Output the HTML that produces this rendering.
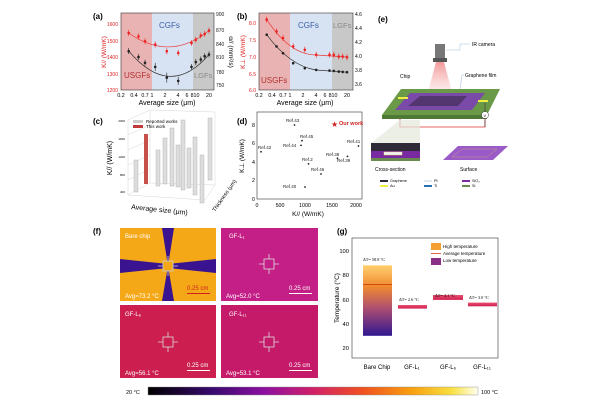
<!DOCTYPE html><html><head><meta charset="utf-8"><style>
body{margin:0;background:#fff;width:600px;height:400px;overflow:hidden}
svg{font-family:"Liberation Sans",Arial,sans-serif}
</style></head><body>
<svg width="600" height="400" viewBox="0 0 600 400" xmlns="http://www.w3.org/2000/svg">
<defs>
<linearGradient id="cb" x1="0" x2="1"><stop offset="0" stop-color="#000"/><stop offset="0.2" stop-color="#3a0a70"/><stop offset="0.35" stop-color="#8a10a0"/><stop offset="0.5" stop-color="#d0206a"/><stop offset="0.65" stop-color="#f05020"/><stop offset="0.8" stop-color="#f8a010"/><stop offset="0.92" stop-color="#f8e040"/><stop offset="1" stop-color="#fffff0"/></linearGradient>
<linearGradient id="bar" x1="0" y1="0" x2="0" y2="1"><stop offset="0" stop-color="#ffd070"/><stop offset="0.3" stop-color="#f08a30"/><stop offset="0.6" stop-color="#b05070"/><stop offset="1" stop-color="#301890"/></linearGradient>
<linearGradient id="pk" x1="0" y1="0" x2="0" y2="1"><stop offset="0" stop-color="#e85070"/><stop offset="1" stop-color="#d02050"/></linearGradient>
<linearGradient id="cam" x1="0" y1="0" x2="0" y2="1"><stop offset="0" stop-color="#f08080" stop-opacity=".8"/><stop offset="1" stop-color="#f8c0c0" stop-opacity=".3"/></linearGradient>
</defs>
<!-- (a) -->
<text x="93" y="19" font-size="8" font-weight="bold">(a)</text>
<rect x="121" y="13" width="31" height="77" fill="#eab3b3"/>
<rect x="152" y="13" width="41" height="77" fill="#d7e3f2"/>
<rect x="193" y="13" width="21" height="77" fill="#c8c8c8"/>
<rect x="121" y="13" width="93" height="77" fill="none" stroke="#333" stroke-width=".6"/>
<text x="159" y="28" font-size="8" fill="#3a5fa8">CGFs</text>
<text x="124" y="78" font-size="8" fill="#b03030">USGFs</text>
<text x="194" y="78" font-size="7.5" fill="#888">LGFs</text>
<g font-size="5" fill="#d22" text-anchor="end"><text x="118" y="26">1600</text><text x="118" y="43">1500</text><text x="118" y="59">1400</text><text x="118" y="76">1300</text><text x="118" y="92">1200</text></g>
<g font-size="5" fill="#222"><text x="216" y="16">900</text><text x="216" y="32">870</text><text x="216" y="46">840</text><text x="216" y="59">810</text><text x="216" y="74">780</text><text x="216" y="87">750</text></g>
<text transform="translate(106,52) rotate(-90)" font-size="6.5" fill="#d22" text-anchor="middle">K// (W/mK)</text>
<text transform="translate(229,52) rotate(90)" font-size="6.5" text-anchor="middle">α// (mm²/s)</text>
<g font-size="5.3" text-anchor="middle"><text x="121" y="97">0.2</text><text x="134" y="97">0.4</text><text x="145" y="97">0.7</text><text x="152" y="97">1</text><text x="165" y="97">2</text><text x="178" y="97">4</text><text x="187" y="97">6</text><text x="195" y="97">810</text><text x="209" y="97">20</text></g>
<text x="167" y="105" font-size="7" text-anchor="middle">Average size (μm)</text>
<path d="M128.7,33 Q170,62 209,30.6" fill="none" stroke="#e33" stroke-width=".7"/>
<path d="M128.7,51 Q170,100 209,54.5" fill="none" stroke="#333" stroke-width=".7"/>
<g stroke="#e22" stroke-width=".6"><path d="M128.7,30v6M138.5,33.4v6M145,38.3v6M155.2,41.6v6M166.8,48.2v6M178.2,49.9v6M191.5,40v6M195.8,36.7v6M200.8,32.5v6M204.7,30.9v6M209,27.6v6"/></g>
<g stroke="#222" stroke-width=".6"><path d="M128.7,48v6M138.5,54v6M145,59.8v6M155.2,62.9v8M166.8,72.6v10M178.2,76.9v8M191.5,63.9v6M195.8,59v6M200.8,56.5v6M204.7,53.2v6M209,51.5v6"/></g>
<g fill="#e22"><circle cx="128.7" cy="33" r="1.3"/><circle cx="138.5" cy="36.4" r="1.3"/><circle cx="145" cy="41.3" r="1.3"/><circle cx="155.2" cy="44.6" r="1.3"/><circle cx="166.8" cy="51.2" r="1.3"/><circle cx="178.2" cy="52.9" r="1.3"/><circle cx="191.5" cy="43" r="1.3"/><circle cx="195.8" cy="39.7" r="1.3"/><circle cx="200.8" cy="35.5" r="1.3"/><circle cx="204.7" cy="33.9" r="1.3"/><circle cx="209" cy="30.6" r="1.3"/></g>
<g fill="#222"><circle cx="128.7" cy="51.2" r="1.3"/><circle cx="138.5" cy="57" r="1.3"/><circle cx="145" cy="62.8" r="1.3"/><circle cx="155.2" cy="66.9" r="1.3"/><circle cx="166.8" cy="77.6" r="1.3"/><circle cx="178.2" cy="80.9" r="1.3"/><circle cx="191.5" cy="66.9" r="1.3"/><circle cx="195.8" cy="62" r="1.3"/><circle cx="200.8" cy="59.5" r="1.3"/><circle cx="204.7" cy="56.2" r="1.3"/><circle cx="209" cy="54.5" r="1.3"/></g>
<!-- (b) -->
<text x="237" y="19" font-size="8" font-weight="bold">(b)</text>
<rect x="259" y="13" width="31" height="77" fill="#eab3b3"/>
<rect x="290" y="13" width="42" height="77" fill="#d7e3f2"/>
<rect x="332" y="13" width="21" height="77" fill="#c8c8c8"/>
<rect x="259" y="13" width="94" height="77" fill="none" stroke="#333" stroke-width=".6"/>
<text x="298" y="28" font-size="8" fill="#3a5fa8">CGFs</text>
<text x="261" y="83" font-size="8" fill="#b03030">USGFs</text>
<text x="333" y="28" font-size="7.5" fill="#888">LGFs</text>
<g font-size="5" fill="#d22" text-anchor="end"><text x="256" y="25">8.0</text><text x="256" y="42">7.5</text><text x="256" y="59">7.0</text><text x="256" y="76">6.5</text><text x="256" y="92">6.0</text></g>
<g font-size="5"><text x="355" y="16">4.6</text><text x="355" y="30">4.4</text><text x="355" y="44">4.2</text><text x="355" y="58">4.0</text><text x="355" y="72">3.8</text><text x="355" y="86">3.6</text></g>
<text transform="translate(245,52) rotate(-90)" font-size="6.5" fill="#d22" text-anchor="middle">K⊥ (W/mK)</text>
<g font-size="5.3" text-anchor="middle"><text x="259" y="97">0.2</text><text x="272" y="97">0.4</text><text x="283" y="97">0.7</text><text x="290" y="97">1</text><text x="303" y="97">2</text><text x="316" y="97">4</text><text x="325" y="97">6</text><text x="333" y="97">810</text><text x="347" y="97">20</text></g>
<text x="305" y="105" font-size="7" text-anchor="middle">Average size (μm)</text>
<path d="M266.7,19.6 Q290,55 316,55 L347,57" fill="none" stroke="#e33" stroke-width=".7"/>
<path d="M266.7,34.7 Q290,66 316,70 L347,72.2" fill="none" stroke="#333" stroke-width=".7"/>
<g stroke="#e22" stroke-width=".6"><path d="M266.7,16.6v6M276.5,28.4v6M283,35v6M293.2,43.4v6M304.8,46.8v6M316.2,51.8v6M329.5,51.8v6M333.8,51.8v6M338.8,53.5v6M342.7,53.5v6M347,54.2v6"/></g>
<g fill="#e22"><circle cx="266.7" cy="19.6" r="1.3"/><circle cx="276.5" cy="31.4" r="1.3"/><circle cx="283" cy="38" r="1.3"/><circle cx="293.2" cy="46.4" r="1.3"/><circle cx="304.8" cy="49.8" r="1.3"/><circle cx="316.2" cy="54.8" r="1.3"/><circle cx="329.5" cy="54.8" r="1.3"/><circle cx="333.8" cy="54.8" r="1.3"/><circle cx="338.8" cy="56.5" r="1.3"/><circle cx="342.7" cy="56.5" r="1.3"/><circle cx="347" cy="57.2" r="1.3"/></g>
<g fill="#222"><circle cx="266.7" cy="34.7" r="1.3"/><circle cx="276.5" cy="46.4" r="1.3"/><circle cx="283" cy="53.2" r="1.3"/><circle cx="293.2" cy="63.2" r="1.3"/><circle cx="304.8" cy="68.2" r="1.3"/><circle cx="316.2" cy="69.9" r="1.3"/><circle cx="329.5" cy="70.6" r="1.3"/><circle cx="333.8" cy="70.9" r="1.3"/><circle cx="338.8" cy="71.6" r="1.3"/><circle cx="342.7" cy="71.9" r="1.3"/><circle cx="347" cy="72.2" r="1.3"/></g>
<!-- (c) -->
<text x="93" y="124" font-size="8" font-weight="bold">(c)</text>
<g stroke="#ccc" stroke-width=".4" fill="none"><path d="M128,120 L128,195 L205,200 L215,185 L215,112"/><path d="M128,120 L150,110 L215,112"/><path d="M150,110 L150,183 L215,185"/><path d="M128,195 L150,183"/><path d="M128,135 L150,125 M128,150 L150,140 M128,165 L150,155 M128,180 L150,169"/></g>
<g fill="#ddd" stroke="#aaa" stroke-width=".4"><rect x="134" y="160" width="4" height="32"/><rect x="156" y="150" width="4" height="36"/><rect x="163" y="138" width="4" height="46"/><rect x="170" y="128" width="4" height="58"/><rect x="176" y="145" width="4" height="42"/><rect x="181" y="120" width="4" height="70"/><rect x="187" y="148" width="4" height="40"/><rect x="193" y="137" width="4" height="58"/><rect x="200" y="155" width="4" height="48"/><rect x="208" y="118" width="4" height="62"/></g>
<rect x="144" y="134" width="4" height="50" fill="#c8504a"/>
<rect x="133" y="120" width="10" height="3" fill="#ccc"/><text x="146" y="123" font-size="4.5">Reported works</text>
<rect x="133" y="125" width="10" height="3" fill="#c03a3a"/><text x="146" y="128" font-size="4.5">This work</text>
<g font-size="3" text-anchor="end"><text x="125" y="122">2000</text><text x="125" y="140">1600</text><text x="125" y="158">1200</text><text x="125" y="176">800</text><text x="125" y="193">400</text></g>
<text transform="translate(112,158) rotate(-90)" font-size="7" text-anchor="middle">K// (W/mK)</text>
<text transform="translate(131,209) rotate(6)" font-size="7">Average size (μm)</text>
<text transform="translate(215,212) rotate(-55)" font-size="5.5">Thickness (μm)</text>
<!-- (d) -->
<text x="237" y="124" font-size="8" font-weight="bold">(d)</text>
<rect x="257" y="112" width="105" height="87" fill="none" stroke="#333" stroke-width=".6"/>
<g font-size="5.3" text-anchor="middle"><text x="257" y="207">0</text><text x="280" y="207">500</text><text x="305" y="207">1000</text><text x="332" y="207">1500</text><text x="356" y="207">2000</text></g>
<g font-size="5.3" text-anchor="end"><text x="255" y="127">8</text><text x="255" y="145">6</text><text x="255" y="164">4</text><text x="255" y="182">2</text><text x="255" y="201">0</text></g>
<text x="308" y="216" font-size="6.5" text-anchor="middle">K// (W/mK)</text>
<text transform="translate(244,156) rotate(-90)" font-size="6.5" text-anchor="middle">K⊥ (W/mK)</text>
<g fill="#222" font-size="4.5"><circle cx="294.5" cy="125" r=".9"/><text x="286" y="122">Ref.43</text><circle cx="302" cy="140.7" r=".9"/><text x="300" y="138">Ref.45</text><circle cx="301" cy="145.4" r=".9"/><text x="283" y="147">Ref.44</text><circle cx="261" cy="151.8" r=".9"/><text x="258" y="149">Ref.42</text><circle cx="358.5" cy="146" r=".9"/><text x="347" y="143">Ref.41</text><circle cx="308.5" cy="163.9" r=".9"/><text x="302" y="161">Ref.2</text><circle cx="337.5" cy="158.3" r=".9"/><text x="326" y="156">Ref.38</text><circle cx="347.5" cy="156.4" r=".9"/><text x="337" y="162">Ref.39</text><circle cx="321" cy="174" r=".9"/><text x="311" y="171">Ref.46</text><circle cx="305" cy="187" r=".9"/><text x="283" y="188">Ref.40</text></g>
<text x="331" y="127" font-size="8" fill="#d02020">★</text><text x="339" y="125" font-size="5.5" fill="#d02020" font-weight="bold">Our work</text>
<!-- (e) -->
<text x="378" y="22" font-size="8" font-weight="bold">(e)</text>
<rect x="435" y="44" width="10" height="16" fill="#777"/><rect x="433" y="58" width="14" height="4" fill="#555"/>
<path d="M436,62 L444,62 L452,92 L428,92Z" fill="url(#cam)"/>
<text x="472" y="46" font-size="5">IR camera</text><path d="M446,50 L460,50 L460,44 L470,44" fill="none" stroke="#9bd" stroke-width=".5"/>
<text x="400" y="78" font-size="5">Chip</text>
<text x="465" y="77" font-size="5">Graphene film</text><path d="M460,90 L462,75 L464,75" fill="none" stroke="#9bd" stroke-width=".5"/>
<path d="M382,115 L401,89 L500,89 L487,115Z" fill="#6a9a48"/>
<path d="M382,115 L487,115 L487,119 L382,119Z" fill="#4f7a36"/>
<path d="M395,110 L410,93 L485,93 L472,110Z" fill="#7a4aa8"/>
<path d="M408,106 L420,96 L467,96 L458,106Z" fill="#4a3060" opacity=".8"/>
<rect x="398" y="97" width="10" height="2" fill="#ee4"/><rect x="478" y="100" width="10" height="2" fill="#ee4"/>
<path d="M400,119 L400,127 L485,127 L485,118" fill="none" stroke="#d33" stroke-width=".8"/>
<path d="M485,103 L485,127" stroke="#333" stroke-width=".6"/>
<circle cx="485" cy="115" r="3.5" fill="#fff" stroke="#333" stroke-width=".5"/><text x="483.5" y="117" font-size="4">V</text>
<path d="M371,143 L400,120 L420,120 L420,143Z" fill="#e4e8dc" opacity=".7"/>
<rect x="371" y="143" width="49" height="8" fill="#2e2a38"/><rect x="371" y="151" width="49" height="7" fill="#7a2aa0"/><rect x="384" y="152" width="18" height="3" fill="#eef" stroke="#ee4" stroke-width=".4"/><rect x="371" y="158" width="49" height="3" fill="#6a8a50"/>
<path d="M443,160 L458,146 L508,146 L493,160Z" fill="#9a5ac8"/>
<path d="M452,157 L462,149 L497,149 L487,157Z" fill="none" stroke="#d8b070" stroke-width=".4"/>
<text x="375" y="171" font-size="5">Cross-section</text><text x="460" y="171" font-size="5">Surface</text>
<g font-size="3.8"><rect x="380" y="180" width="8" height="2" fill="#2e2a38"/><text x="390" y="182">Graphene</text><rect x="380" y="185" width="8" height="2" fill="#ee4"/><text x="390" y="187">Au</text>
<rect x="424" y="180" width="8" height="2" fill="#e0e8f0"/><text x="434" y="182">Pt</text><rect x="424" y="185" width="8" height="2" fill="#2a70b0"/><text x="434" y="187">Ti</text>
<rect x="462" y="180" width="8" height="2" fill="#7a2aa0"/><text x="472" y="182">SiO₂</text><rect x="462" y="185" width="8" height="2" fill="#6a8a50"/><text x="472" y="187">Si</text></g>
<!-- (f) -->
<text x="93" y="234" font-size="8" font-weight="bold">(f)</text>
<rect x="120" y="228" width="96" height="73" fill="#f4a818"/>
<path d="M120,259 L168,264 L168,268 L120,273Z M216,259 L168,264 L168,268 L216,273Z" fill="#3a1490"/>
<path d="M162,228 L168,266 L174,228Z M162,301 L168,266 L174,301Z" fill="#3a1490"/>
<rect x="163" y="261" width="10" height="10" fill="#f4a818" stroke="#ccc" stroke-width=".8"/>
<path d="M158,266 L163,266 M173,266 L178,266 M168,256 L168,261 M168,271 L168,276" stroke="#ccc" stroke-width=".8"/>
<text x="125" y="238" font-size="6" fill="#fff">Bare chip</text><text x="125" y="298" font-size="6" fill="#fff">Avg=73.2 °C</text>
<text x="187" y="290" font-size="6" fill="#d02020">0.25 cm</text><rect x="187" y="293" width="23" height="1" fill="#d02020"/>
<g font-size="6" fill="#fff">
<rect x="221" y="228" width="97" height="73" fill="#c41f86"/><text x="229" y="238">GF-L₁</text><text x="226" y="298">Avg=52.0 °C</text><text x="289" y="290">0.25 cm</text><rect x="289" y="293" width="23" height="1"/>
<rect x="120" y="305" width="96" height="73" fill="#cc1f50"/><text x="125" y="316">GF-L₆</text><text x="125" y="375">Avg=56.1 °C</text><text x="187" y="367">0.25 cm</text><rect x="187" y="370" width="23" height="1"/>
<rect x="221" y="305" width="97" height="73" fill="#c51a6a"/><text x="229" y="316">GF-L₁₁</text><text x="226" y="375">Avg=53.1 °C</text><text x="289" y="367">0.25 cm</text><rect x="289" y="370" width="23" height="1"/>
</g>
<g fill="none" stroke="#ddd" stroke-width=".8"><rect x="264" y="259" width="10" height="10"/><path d="M259,264h5M274,264h5M269,254v5M269,269v5"/>
<rect x="163" y="337" width="10" height="10"/><path d="M158,342h5M173,342h5M168,332v5M168,347v5"/>
<rect x="264" y="337" width="10" height="10"/><path d="M259,342h5M274,342h5M269,332v5M269,347v5"/></g>
<rect x="148" y="387" width="330" height="8" fill="url(#cb)" stroke="#888" stroke-width=".4"/>
<text x="126" y="394" font-size="5.5">20 °C</text><text x="481" y="394" font-size="5.5">100 °C</text>
<!-- (g) -->
<text x="337" y="234" font-size="8" font-weight="bold">(g)</text>
<rect x="352" y="238" width="146" height="120" fill="none" stroke="#333" stroke-width=".6"/>
<g font-size="5.8" text-anchor="end"><text x="349" y="253">100</text><text x="349" y="277">80</text><text x="349" y="302">60</text><text x="349" y="326">40</text><text x="349" y="350">20</text></g>
<text transform="translate(339,298) rotate(-90)" font-size="6.5" text-anchor="middle">Temperature (°C)</text>
<rect x="363" y="265.3" width="29" height="70.5" fill="url(#bar)"/>
<rect x="363" y="284" width="29" height=".9" fill="#d04010"/>
<rect x="398" y="305" width="29" height="3.6" fill="url(#pk)"/>
<rect x="433" y="295" width="30" height="4.9" fill="url(#pk)"/>
<rect x="468" y="302.6" width="29" height="3.7" fill="url(#pk)"/>
<g font-size="4.3" font-family="Liberation Serif,serif"><text x="363" y="261">ΔT= 58.8 °C</text><text x="399" y="301">ΔT= 2.6 °C</text><text x="435" y="297">ΔT= 4.1 °C</text><text x="469" y="299">ΔT= 3.0 °C</text></g>
<rect x="431" y="243" width="10" height="7" fill="#f4a030"/><text x="443" y="248" font-size="4.5">High temperature</text>
<rect x="431" y="253" width="10" height=".8" fill="#e04020"/><text x="443" y="255" font-size="4.5">Average temperature</text>
<rect x="431" y="258" width="10" height="7" fill="#8a3088"/><text x="443" y="262" font-size="4.5">Low temperature</text>
<g font-size="6" text-anchor="middle"><text x="377" y="369">Bare Chip</text><text x="412" y="369">GF-L₁</text><text x="448" y="369">GF-L₆</text><text x="482" y="369">GF-L₁₁</text></g>
</svg>
</body></html>
